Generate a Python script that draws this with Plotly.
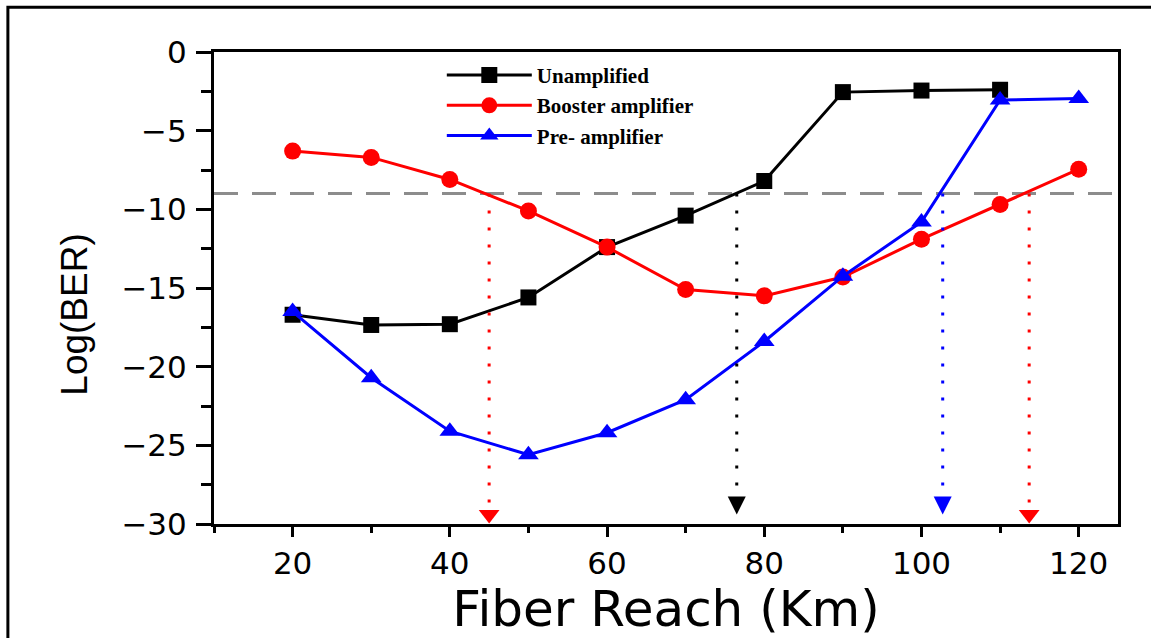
import plotly.graph_objects as go

# Fiber reach (km) for each measured point
reach = [20, 30, 40, 50, 60, 70, 80, 90, 100, 110, 120]

# log10(BER) for each configuration
unamplified = [-16.7, -17.35, -17.3, -15.6, -12.4, -10.4, -8.2, -2.55, -2.45, -2.4]
booster = [-6.3, -6.7, -8.1, -10.1, -12.4, -15.1, -15.5, -14.3, -11.9, -9.7, -7.45]
pre_amp = [-16.5, -20.7, -24.1, -25.6, -24.2, -22.1, -18.4, -14.25, -10.8, -3.05, -2.95]

# FEC threshold and reach where each curve crosses it
ber_limit = -9
crossings = [45, 76.5, 102.7, 113.7]
crossing_colors = ["#ff0000", "#000000", "#0000ff", "#ff0000"]
crossing_symbols = ["triangle-down", "arrow-down", "arrow-down", "triangle-down"]

x_range = [10, 125]
y_range = [-30, 0]

fig = go.Figure()

series = [
    ("Unamplified", reach[:len(unamplified)], unamplified, "#000000", "square", 16),
    ("Booster amplifier", reach, booster, "#ff0000", "circle", 17),
    ("Pre- amplifier", reach, pre_amp, "#0000ff", "triangle-up", 18),
]
for name, xs, ys, color, symbol, size in series:
    fig.add_trace(go.Scatter(
        x=xs, y=ys, name=name, mode="lines+markers",
        line=dict(color=color, width=3),
        marker=dict(symbol=symbol, size=size, color=color),
        legendgroup=name,
    ))

# dotted drop lines from the threshold to the axis
head_y = y_range[0] + 0.6
for xc, col, sym in zip(crossings, crossing_colors, crossing_symbols):
    fig.add_trace(go.Scatter(
        x=[xc, xc], y=[ber_limit, head_y], mode="lines",
        line=dict(color=col, width=3, dash="3px,14px"),
        showlegend=False, hoverinfo="skip",
    ))
    fig.add_trace(go.Scatter(
        x=[xc], y=[head_y], mode="markers",
        marker=dict(symbol=sym, size=18, color=col, line=dict(width=0)),
        showlegend=False, hoverinfo="skip",
    ))

# threshold line
fig.add_shape(type="line", xref="paper", yref="y", x0=0, x1=1,
              y0=ber_limit, y1=ber_limit,
              line=dict(color="#8c8c8c", width=3, dash="24px,14px"), layer="below")

# frame around the whole figure
fig.add_shape(type="rect", xref="paper", yref="paper",
              x0=-0.228, x1=1.08, y0=-0.3, y1=1.095,
              line=dict(color="#000000", width=3))

# y-axis title, set a little below the axis midpoint
fig.add_annotation(
    text="Log(BER)", textangle=-90, xref="paper", yref="paper",
    x=-0.154, y=0.443, xanchor="center", yanchor="middle", showarrow=False,
    font=dict(family="Liberation Sans, Arial", size=37, color="#000000"),
)

tick_font = dict(family="DejaVu Sans", size=31, color="#000000")

fig.update_xaxes(
    range=x_range, tick0=20, dtick=20,
    ticks="outside", ticklen=10, tickwidth=3, tickcolor="#000000",
    minor=dict(tick0=10, dtick=10, ticks="outside", ticklen=6, tickwidth=3, tickcolor="#000000"),
    showline=True, linewidth=3, linecolor="#000000", mirror=True,
    showgrid=False, zeroline=False, tickfont=tick_font,
    title=dict(text="Fiber Reach (Km)", font=dict(family="DejaVu Sans", size=50, color="#000000"), standoff=6),
)
fig.update_yaxes(
    range=y_range, tick0=0, dtick=5,
    ticks="outside", ticklen=15, tickwidth=3, tickcolor="#000000",
    minor=dict(tick0=0, dtick=2.5, ticks="outside", ticklen=10, tickwidth=3, tickcolor="#000000"),
    showline=True, linewidth=3, linecolor="#000000", mirror=True,
    showgrid=False, zeroline=False, tickfont=tick_font, ticklabelstandoff=3,
)

fig.update_layout(
    width=1151, height=638,
    margin=dict(l=214, r=33, t=52, b=114),
    paper_bgcolor="#ffffff", plot_bgcolor="#ffffff",
    legend=dict(
        x=0.252, y=0.994, xanchor="left", yanchor="top",
        bgcolor="rgba(0,0,0,0)", borderwidth=0,
        font=dict(family="Liberation Serif, Times New Roman", size=21, color="#000000", weight="bold"),
        traceorder="grouped", tracegroupgap=0, itemwidth=85,
    ),
)

fig.write_html("out.html")
